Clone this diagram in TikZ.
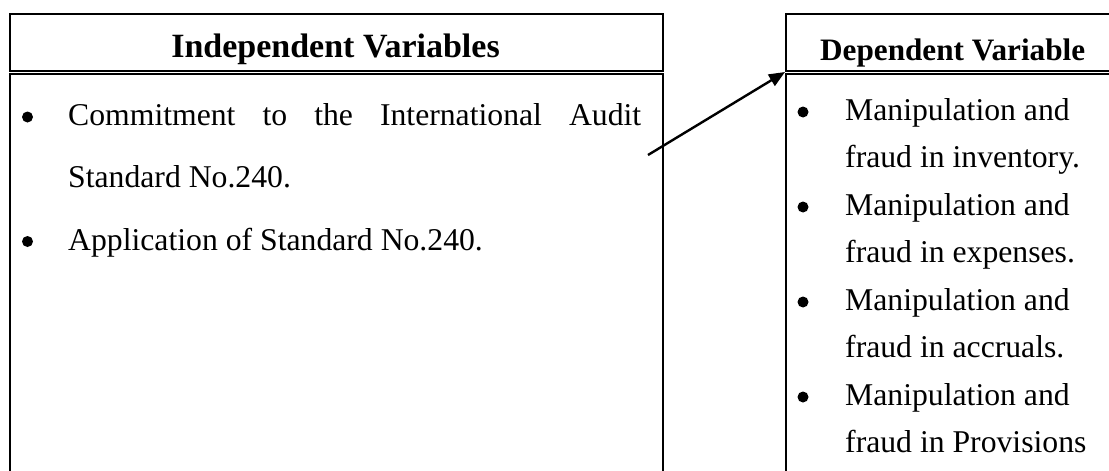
\documentclass[tikz,border=0pt]{standalone}
\usepackage{fontspec}
\setmainfont{Liberation Serif}
\usetikzlibrary{arrows.meta}
\tikzset{
  boxline/.style={draw, line width=2pt, inner sep=0pt, anchor=north west},
  headtxt/.style={font=\bfseries\fontsize{34}{40}\selectfont, inner sep=0pt},
  bodytxt/.style={font=\fontsize{31.7}{38}\selectfont, anchor=base west, inner sep=0pt},
  dot/.style={circle, fill, inner sep=0pt, minimum size=11pt},
}
\begin{document}
\begin{tikzpicture}[x=1pt,y=-1pt]
                \useasboundingbox (0,0) rectangle (1109,471);
                \clip (0,0) rectangle (1109,471);
                % left: independent
                \node[boxline, minimum width=653pt, minimum height=57pt] (indhead) at (9,13) {};
                \node[boxline, minimum width=653pt, minimum height=440pt] (indbody) at (9,73) {};
                \node[headtxt, anchor=base] (indtitle) at (335.5,57) {Independent Variables};
                \node[dot] (dotA) at (27.5,117) {};
                \node[bodytxt] (lineAa) at (68,125.5) {\makebox[573pt][s]{Commitment to the International Audit}};
                \node[bodytxt] (lineAb) at (68,187.5) {Standard No.240.};
                \node[dot] (dotB) at (27.5,241.5) {};
                \node[bodytxt] (lineB) at (68,250) {Application of Standard No.240.};
                % right: dependent
                \node[boxline, minimum width=400pt, minimum height=57pt] (dephead) at (785,13) {};
                \node[boxline, minimum width=400pt, minimum height=440pt] (depbody) at (785,73) {};
                \node[headtxt, anchor=base west, font=\bfseries\fontsize{31.2}{38}\selectfont] (deptitle) at (820,60) {Dependent Variable};
                \node[dot] (dotC) at (803,112) {};
                \node[bodytxt] (lineCa) at (845,120) {Manipulation and};
                \node[bodytxt] (lineCb) at (845,167.5) {fraud in inventory.};
                \node[dot] (dotD) at (803,207) {};
                \node[bodytxt] (lineDa) at (845,215) {Manipulation and};
                \node[bodytxt] (lineDb) at (845,262.5) {fraud in expenses.};
                \node[dot] (dotE) at (803,302) {};
                \node[bodytxt] (lineEa) at (845,310) {Manipulation and};
                \node[bodytxt] (lineEb) at (845,357.5) {fraud in accruals.};
                \node[dot] (dotF) at (803,397) {};
                \node[bodytxt] (lineFa) at (845,405) {Manipulation and};
                \node[bodytxt] (lineFb) at (845,452.5) {fraud in Provisions};
                % arrow
                \coordinate (tail) at (648,155);
                \draw[line width=2.4pt, -{Triangle[length=16pt,width=13pt]}] (tail) -- (dephead.south west);
            \end{tikzpicture}
\end{document}
